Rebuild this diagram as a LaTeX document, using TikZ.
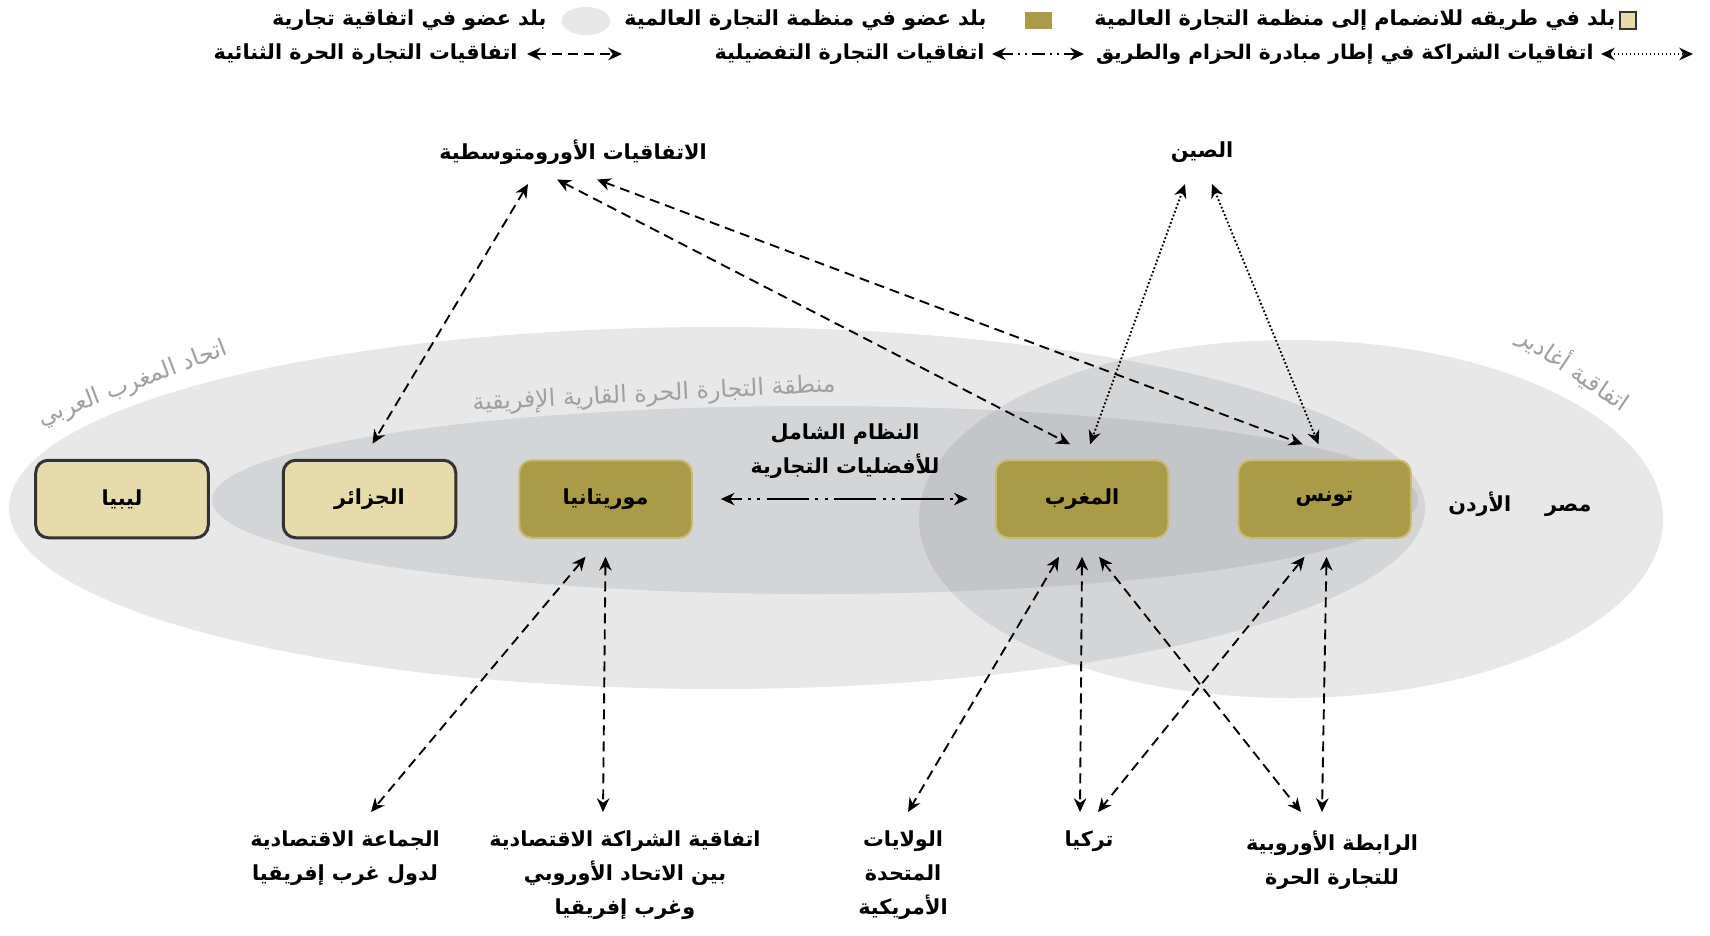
\documentclass[tikz,border=0pt]{standalone}
\usepackage{fontspec}
\newfontfamily\arabicfont[Script=Arabic]{DejaVu Sans}
\TeXXeTstate=1
\usetikzlibrary{arrows.meta,positioning,shapes.geometric}
\newcommand{\artxt}[1]{\beginR #1\endR}
\newcommand{\capfont}{\arabicfont\bfseries\fontsize{8.3}{13.6}\selectfont}
\definecolor{wtoolive}{RGB}{169,155,71}
\definecolor{wtoedge}{RGB}{201,186,112}
\definecolor{accbeige}{RGB}{229,219,171}
\definecolor{zonegray}{RGB}{110,112,120}
\definecolor{zonetext}{RGB}{160,160,163}

\begin{document}
\begin{tikzpicture}[x=0.4pt,y=-0.4pt]
	\tikzstyle{member} = [rectangle, fill=wtoolive, draw=wtoedge, line width=0.8pt, rounded corners=5pt, minimum width=69pt, minimum height=31pt, text centered, font=\capfont]
	\tikzstyle{candidate} = [member, fill=accbeige, draw=black!80, line width=1.2pt]
	\tikzstyle{agreement} = [inner sep=0pt, align=center, font=\capfont]
	\tikzstyle{zonename} = [inner sep=0pt, text=zonetext, font=\arabicfont\fontsize{9.5}{12}\selectfont]
	\tikzstyle{zone} = [fill=zonegray, fill opacity=0.16]
	\tikzstyle{fta} = [draw, line width=0.75pt, dash pattern=on 4pt off 2.4pt, {Stealth[length=5.5pt,width=5pt]}-{Stealth[length=5.5pt,width=5pt]}]
	\tikzstyle{bri} = [fta, dash pattern=on 0.7pt off 0.9pt]
	\tikzstyle{pta} = [fta, dash pattern=on 17pt off 2.5pt on 1.2pt off 2.5pt on 1.2pt off 2.5pt, dash phase=12pt]
	\useasboundingbox (0,0) rectangle (1710,935);

	% trade zones
	\fill[zone] (717,508) ellipse [x radius=708, y radius=181];
	\fill[zone] (815,500) ellipse [x radius=603, y radius=94];
	\fill[zone] (1291,519) ellipse [x radius=372, y radius=179];
	\node[zonename, rotate=21] (amu) at (133,384) {\artxt{اتحاد المغرب العربي}};
	\node[zonename, rotate=3] (afcfta) at (654,395) {\artxt{منطقة التجارة الحرة القارية الإفريقية}};
	\node[zonename, rotate=-34] (agadir) at (1574,369) {\artxt{اتفاقية أغادير}};

	% legend
	\node[rectangle, fill=accbeige, draw=black!80, line width=0.8pt, minimum width=6.4pt, minimum height=6.8pt, inner sep=0pt] (keyacc) at (1628,20) {};
	\node[agreement, anchor=east] (keyacctext) at (1616,20) {\artxt{بلد في طريقه للانضمام إلى منظمة التجارة العالمية}};
	\node[rectangle, fill=wtoolive, minimum width=10.8pt, minimum height=6.8pt, inner sep=0pt] (keymem) at (1038,20) {};
	\node[agreement, anchor=east] (keymemtext) at (987,20) {\artxt{بلد عضو في منظمة التجارة العالمية}};
	\node[ellipse, fill=black!9, minimum width=19.6pt, minimum height=11.2pt, inner sep=0pt] (keyzone) at (586,21) {};
	\node[agreement, anchor=east] (keyzonetext) at (547,20) {\artxt{بلد عضو في اتفاقية تجارية}};
	\coordinate (keybri a) at (1601,54);
	\coordinate (keybri b) at (1693,54);
	\node[agreement, anchor=east, font=\arabicfont\bfseries\fontsize{8.1}{13.6}\selectfont] (keybritext) at (1594,54) {\artxt{اتفاقيات الشراكة في إطار مبادرة الحزام والطريق}};
	\coordinate (keypta a) at (992,54);
	\coordinate (keypta b) at (1084,54);
	\node[agreement, anchor=east] (keyptatext) at (985,54) {\artxt{اتفاقيات التجارة التفضيلية}};
	\coordinate (keyfta a) at (527,54);
	\coordinate (keyfta b) at (622,54);
	\node[agreement, anchor=east] (keyftatext) at (518,54) {\artxt{اتفاقيات التجارة الحرة الثنائية}};
	\path[bri] (keybri a) -- (keybri b);
	\path[pta, dash pattern=on 5pt off 2pt on 0.8pt off 2pt on 0.8pt off 2pt, dash phase=0pt] (keypta a) -- (keypta b);
	\path[fta] (keyfta a) -- (keyfta b);

	% countries
	\node[candidate] (libya) at (122,499) {\artxt{ليبيا}};
	\node[candidate, right=28.8pt of libya] (algeria) {\artxt{الجزائر}};
	\node[member, right=24.4pt of algeria] (mauritania) {\artxt{موريتانيا}};
	\node[member, right=120.8pt of mauritania] (morocco) {\artxt{المغرب}};
	\node[member, right=27.2pt of morocco] (tunisia) {\artxt{تونس}};
	\node[agreement, right=14.4pt of tunisia, yshift=-2pt] (jordan) {\artxt{الأردن}};
	\node[agreement, base right=13.2pt of jordan] (egypt) {\artxt{مصر}};

	% partners
	\node[agreement] (euromed) at (573,152) {\artxt{الاتفاقيات الأورومتوسطية}};
	\node[agreement] (china) at (1202,152) {\artxt{الصين}};
	\node[agreement] (gsp) at (845,451) {\artxt{النظام الشامل}\\\artxt{للأفضليات التجارية}};
	\node[agreement, anchor=north] (ecowas) at (345,830) {\artxt{الجماعة الاقتصادية}\\\artxt{لدول غرب إفريقيا}};
	\node[agreement, anchor=north] (epa) at (625,830) {\artxt{اتفاقية الشراكة الاقتصادية}\\\artxt{بين الاتحاد الأوروبي}\\\artxt{وغرب إفريقيا}};
	\node[agreement, anchor=north] (usa) at (903,830) {\artxt{الولايات}\\\artxt{المتحدة}\\\artxt{الأمريكية}};
	\node[agreement, anchor=north] (turkey) at (1089,830) {\artxt{تركيا}};
	\node[agreement, anchor=north] (efta) at (1332,830) {\artxt{الرابطة الأوروبية}\\\artxt{للتجارة الحرة}};

	% agreements
	\path[fta] ([xshift=-18pt,yshift=-12.8pt]euromed.center) -- ([xshift=1.2pt,yshift=6pt]algeria.north);
	\path[fta] ([xshift=-6.4pt,yshift=-11pt]euromed.center) -- ([xshift=-4.8pt,yshift=6pt]morocco.north);
	\path[fta] ([xshift=9.6pt,yshift=-11pt]euromed.center) -- ([xshift=-8.8pt,yshift=6pt]tunisia.north);
	\path[bri] ([xshift=-6.8pt,yshift=-12.8pt]china.center) -- ([xshift=3.2pt,yshift=6pt]morocco.north);
	\path[bri] ([xshift=4pt,yshift=-12.8pt]china.center) -- ([xshift=-2.4pt,yshift=6pt]tunisia.north);
	\path[pta] ([xshift=11.2pt]mauritania.east) -- ([xshift=-10.8pt]morocco.west);
	\path[fta] ([xshift=-8pt,yshift=-7.2pt]mauritania.south) -- ([xshift=10.4pt,yshift=7.2pt]ecowas.north);
	\path[fta] ([yshift=-7.2pt]mauritania.south) -- ([xshift=-8.8pt,yshift=7.2pt]epa.north);
	\path[fta] ([xshift=-9.2pt,yshift=-7.2pt]morocco.south) -- ([xshift=2pt,yshift=7.2pt]usa.north);
	\path[fta] ([yshift=-7.2pt]morocco.south) -- ([xshift=-3.6pt,yshift=7.2pt]turkey.north);
	\path[fta] ([xshift=6.8pt,yshift=-7.2pt]morocco.south) -- ([xshift=-12.4pt,yshift=7.2pt]efta.north);
	\path[fta] ([xshift=-8pt,yshift=-7.2pt]tunisia.south) -- ([xshift=3.6pt,yshift=7.2pt]turkey.north);
	\path[fta] ([xshift=0.8pt,yshift=-7.2pt]tunisia.south) -- ([xshift=-4pt,yshift=7.2pt]efta.north);
\end{tikzpicture}
\end{document}
